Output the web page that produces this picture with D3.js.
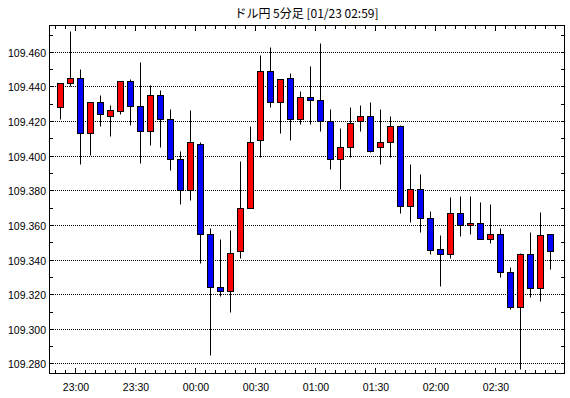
<!DOCTYPE html>
<html>
<head>
<meta charset="utf-8">
<script src="https://cdn.jsdelivr.net/npm/d3@7"></script>
<style>
  html, body { margin: 0; padding: 0; background: #fff; }
  svg { display: block; }
  text { font-family: "Liberation Sans", Arial, sans-serif; fill: #000; }
</style>
</head>
<body>
<svg id="chart" width="570" height="398"></svg>
<script>
// ---- data (5-minute candles, 22:50 .. 02:55) ----
const times = ["22:50","22:55","23:00","23:05","23:10","23:15","23:20","23:25","23:30","23:35",
               "23:40","23:45","23:50","23:55","00:00","00:05","00:10","00:15","00:20","00:25",
               "00:30","00:35","00:40","00:45","00:50","00:55","01:00","01:05","01:10","01:15",
               "01:20","01:25","01:30","01:35","01:40","01:45","01:50","01:55","02:00","02:05",
               "02:10","02:15","02:20","02:25","02:30","02:35","02:40","02:45","02:50","02:55"];
const open  = [109.428,109.442,109.445,109.413,109.431,109.423,109.426,109.443,109.429,109.414,
               109.435,109.421,109.398,109.380,109.407,109.355,109.324,109.322,109.345,109.370,
               109.409,109.449,109.431,109.445,109.421,109.434,109.432,109.420,109.398,109.405,
               109.420,109.423,109.405,109.408,109.417,109.371,109.381,109.364,109.346,109.343,
               109.367,109.360,109.361,109.352,109.355,109.333,109.3125,109.343,109.3235,109.355];
const high  = [109.442,109.472,109.450,109.431,109.435,109.4295,109.443,109.4445,109.454,109.441,
               109.438,109.427,109.4025,109.4265,109.408,109.358,109.352,109.357,109.397,109.417,
               109.458,109.463,109.4445,109.448,109.4375,109.452,109.465,109.427,109.416,109.428,
               109.4295,109.431,109.427,109.423,109.418,109.395,109.3895,109.368,109.354,109.376,
               109.377,109.377,109.373,109.372,109.358,109.336,109.344,109.356,109.3675,109.355];
const low   = [109.421,109.4405,109.395,109.4005,109.417,109.4115,109.424,109.418,109.396,109.406,
               109.405,109.392,109.372,109.3745,109.338,109.285,109.319,109.3095,109.341,109.370,
               109.399,109.428,109.413,109.409,109.4185,109.4185,109.4145,109.3925,109.381,109.399,
               109.414,109.402,109.395,109.399,109.367,109.362,109.356,109.343,109.325,109.341,
               109.3535,109.355,109.352,109.3495,109.330,109.3115,109.277,109.3185,109.316,109.3345];
const close = [109.442,109.445,109.413,109.431,109.424,109.4265,109.443,109.429,109.414,109.435,
               109.421,109.398,109.380,109.408,109.355,109.324,109.322,109.344,109.370,109.408,
               109.449,109.431,109.4445,109.421,109.434,109.432,109.420,109.398,109.405,109.419,
               109.423,109.403,109.408,109.417,109.371,109.381,109.364,109.3455,109.343,109.367,
               109.360,109.361,109.352,109.355,109.333,109.3125,109.343,109.3235,109.354,109.345];
const yTickLabels = ["109.280","109.300","109.320","109.340","109.360","109.380","109.400","109.420","109.440","109.460"];
const xTickLabels = ["23:00","23:30","00:00","00:30","01:00","01:30","02:00","02:30"];
const title = "ドル円 5分足 [01/23 02:59]";

// ---- layout ----
const L = 49, R = 564, T = 25, B = 373;
const svg = d3.select("#chart");

const toMin = s => { const [h, m] = s.split(":").map(Number); const hh = h < 12 ? h + 24 : h; return hh * 60 + m; };
const t0 = toMin(times[0]);
const x = d3.scaleLinear().domain([0, times.length * 5]).range([55, 555]);
const y = d3.scaleLinear().domain([109.2745, 109.4755]).range([B, T]);
const cx = (i) => Math.round(x(toMin(times[i]) - t0 + 2.5));
const py = v => Math.round(y(v)) + 0.5;

// title
svg.append("text").attr("x", (L + R) / 2).attr("y", 18)
  .attr("text-anchor", "middle")
  .style("font-family", "'Noto Sans CJK JP', 'Liberation Sans', sans-serif")
  .style("font-size", "12px").text(title);

// grid lines
const yVals = yTickLabels.map(Number);
svg.append("g").selectAll("line").data(yVals).join("line")
  .attr("x1", L).attr("x2", R)
  .attr("y1", d => py(d)).attr("y2", d => py(d))
  .attr("stroke", "#000").attr("stroke-width", 1).attr("stroke-dasharray", "1,1");

// candles
const idx = d3.range(times.length);
const g = svg.append("g");
g.selectAll("line.wick").data(idx).join("line").attr("class", "wick")
  .attr("x1", i => cx(i) + 0.5).attr("x2", i => cx(i) + 0.5)
  .attr("y1", i => py(high[i])).attr("y2", i => py(low[i]))
  .attr("stroke", "#000").attr("stroke-width", 1);
g.selectAll("rect").data(idx).join("rect")
  .attr("x", i => cx(i) - 2.5)
  .attr("width", 6)
  .attr("y", i => py(Math.max(open[i], close[i])))
  .attr("height", i => Math.max(1, py(Math.min(open[i], close[i])) - py(Math.max(open[i], close[i]))))
  .attr("fill", i => close[i] >= open[i] ? "#ff0000" : "#0000ff")
  .attr("stroke", "#000").attr("stroke-width", 1);

// frame
svg.append("rect").attr("x", L + 0.5).attr("y", T + 0.5)
  .attr("width", R - L).attr("height", B - T)
  .attr("fill", "none").attr("stroke", "#000").attr("stroke-width", 1);

// x ticks (every 5 min minor, 30 min major)
const xt = svg.append("g");
const majorMins = xTickLabels.map(s => toMin(s) - t0);
d3.range(0, times.length * 5 + 1, 5).forEach(m => {
  const xx = Math.round(x(m)) + 0.5;
  const len = majorMins.includes(m) ? 5 : 3;
  xt.append("line").attr("x1", xx).attr("x2", xx).attr("y1", B).attr("y2", B - len).attr("stroke", "#000");
  xt.append("line").attr("x1", xx).attr("x2", xx).attr("y1", T + 1).attr("y2", T + 1 + len).attr("stroke", "#000");
});
xt.selectAll("text").data(xTickLabels).join("text")
  .attr("x", d => Math.round(x(toMin(d) - t0)) + 1)
  .attr("y", 391).attr("text-anchor", "middle")
  .style("font-size", "10.5px").text(d => d);

// y ticks
const yt = svg.append("g");
d3.range(0, 21).forEach(k => {
  const v = 109.270 + k * 0.010;
  if (v < 109.2745 || v > 109.4755) return;
  const yy = py(v);
  const len = 3;
  yt.append("line").attr("x1", L).attr("x2", L + 1 + len).attr("y1", yy).attr("y2", yy).attr("stroke", "#000");
  yt.append("line").attr("x1", R + 1).attr("x2", R - len).attr("y1", yy).attr("y2", yy).attr("stroke", "#000");
});
yt.selectAll("text").data(yTickLabels).join("text")
  .attr("x", L - 3).attr("y", d => py(+d) + 4)
  .attr("text-anchor", "end")
  .style("font-size", "10.5px").text(d => d);
</script>
</body>
</html>
